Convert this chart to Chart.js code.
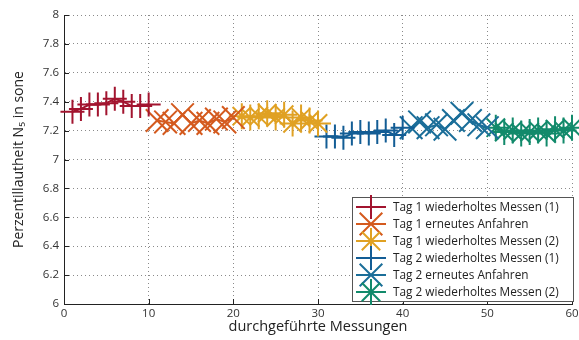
<!DOCTYPE html>
<html>
<head>
<meta charset="utf-8">
<script src="https://cdn.jsdelivr.net/npm/chart.js@4/dist/chart.umd.min.js"></script>
<style>
  html, body { margin: 0; padding: 0; background: #fff; }
  #wrap { width: 579px; height: 340px; }
</style>
</head>
<body>
<div id="wrap"><canvas id="myChart" width="579" height="340"></canvas></div>
<script>
// values
const seriesLabels = ['Tag 1 wiederholtes Messen (1)', 'Tag 1 erneutes Anfahren', 'Tag 1 wiederholtes Messen (2)',
    'Tag 2 wiederholtes Messen (1)', 'Tag 2 erneutes Anfahren', 'Tag 2 wiederholtes Messen (2)'];
const seriesStart = [1, 11, 21, 31, 41, 51];
const day1Repeat1 = [7.33, 7.35, 7.38, 7.38, 7.39, 7.42, 7.40, 7.37, 7.37, 7.38];
const day1Restart = [7.27, 7.26, 7.25, 7.31, 7.25, 7.27, 7.25, 7.28, 7.26, 7.29];
const day1Repeat2 = [7.30, 7.29, 7.30, 7.32, 7.29, 7.31, 7.25, 7.29, 7.27, 7.25];
const day2Repeat1 = [7.16, 7.16, 7.15, 7.18, 7.19, 7.18, 7.19, 7.20, 7.17, 7.22];
const day2Restart = [7.22, 7.26, 7.22, 7.24, 7.21, 7.27, 7.32, 7.27, 7.24, 7.22];
const day2Repeat2 = [7.22, 7.19, 7.20, 7.18, 7.19, 7.20, 7.18, 7.21, 7.20, 7.22];
const seriesValues = [day1Repeat1, day1Restart, day1Repeat2, day2Repeat1, day2Restart, day2Repeat2];
const xTicks = [0, 10, 20, 30, 40, 50, 60];
const yTicks = [6, 6.2, 6.4, 6.6, 6.8, 7, 7.2, 7.4, 7.6, 7.8, 8];

const colors = ['#a2142f', '#d45a1e', '#e0a123', '#135d95', '#1b6e99', '#128a6b'];
const styles = ['cross', 'crossRot', 'star', 'cross', 'crossRot', 'star'];
const radii = [12, 16, 13, 12, 16, 13];

const FONT = "'Open Sans', 'DejaVu Sans', sans-serif";

const datasets = seriesValues.map((vals, i) => ({
    label: seriesLabels[i],
    data: vals.map((v, k) => ({ x: seriesStart[i] + k, y: v })),
    borderColor: colors[i],
    backgroundColor: colors[i],
    borderWidth: 2,
    pointStyle: styles[i],
    pointRadius: radii[i],
    pointBorderWidth: 2,
    pointBorderColor: colors[i],
    showLine: true,
    tension: 0,
    fill: false,
    clip: false
}));

// small marker painter for the legend (same shapes as chart.js draws)
function drawMarker(ctx, style, r, x, y) {
    const d = Math.SQRT1_2 * r;
    ctx.beginPath();
    if (style === 'cross' || style === 'star') {
        ctx.moveTo(x - r, y); ctx.lineTo(x + r, y);
        ctx.moveTo(x, y - r); ctx.lineTo(x, y + r);
    }
    if (style === 'crossRot' || style === 'star') {
        ctx.moveTo(x - d, y - d); ctx.lineTo(x + d, y + d);
        ctx.moveTo(x - d, y + d); ctx.lineTo(x + d, y - d);
    }
    ctx.stroke();
}

// inward ticks like the original
const innerTicks = {
    id: 'innerTicks',
    afterDraw(chart) {
        const ctx = chart.ctx;
        const a = chart.chartArea;
        const xs = chart.scales.x, ys = chart.scales.y;
        ctx.save();
        ctx.strokeStyle = '#222';
        ctx.lineWidth = 1;
        ctx.beginPath();
        xTicks.forEach(t => {
            const px = Math.round(xs.getPixelForValue(t)) + 0.5;
            ctx.moveTo(px, a.bottom);
            ctx.lineTo(px, a.bottom - 5);
        });
        yTicks.forEach(t => {
            const py = Math.round(ys.getPixelForValue(t)) + 0.5;
            ctx.moveTo(a.left, py);
            ctx.lineTo(a.left + 5, py);
        });
        ctx.stroke();
        ctx.restore();
    }
};

// legend box inside the plot, bottom right
const boxLegend = {
    id: 'boxLegend',
    afterDraw(chart) {
        const ctx = chart.ctx;
        const a = chart.chartArea;
        const w = 221, h = 104;
        const x0 = Math.round(a.right) + 1 - w, y0 = Math.round(a.bottom) - 3 - h;
        ctx.save();
        ctx.fillStyle = '#fff';
        ctx.fillRect(x0, y0, w, h);
        ctx.strokeStyle = '#555';
        ctx.lineWidth = 1;
        ctx.strokeRect(x0 + 0.5, y0 + 0.5, w, h);
        ctx.font = '11.8px ' + FONT;
        ctx.textBaseline = 'middle';
        chart.data.datasets.forEach((ds, i) => {
            const cy = y0 + 10 + i * 17;
            ctx.strokeStyle = ds.borderColor;
            ctx.lineWidth = 2;
            ctx.beginPath();
            ctx.moveTo(x0 + 4, cy);
            ctx.lineTo(x0 + 34, cy);
            ctx.stroke();
            drawMarker(ctx, ds.pointStyle, ds.pointRadius, x0 + 19, cy);
        });
        chart.data.datasets.forEach((ds, i) => {
            const cy = y0 + 10 + i * 17;
            ctx.fillStyle = '#222';
            ctx.fillText(ds.label, x0 + 41, cy + 1);
        });
        ctx.restore();
    }
};

const ctx = document.getElementById('myChart').getContext('2d');
const myChart = new Chart(ctx, {
    type: 'scatter',
    data: { datasets: datasets },
    plugins: [innerTicks, boxLegend],
    options: {
        responsive: false,
        animation: false,
        layout: { autoPadding: false, padding: { top: 15, right: 7, left: 11, bottom: 4 } },
        plugins: {
            legend: { display: false },
            tooltip: { enabled: false }
        },
        scales: {
            x: {
                type: 'linear',
                min: 0,
                max: 60,
                afterBuildTicks: s => { s.ticks = xTicks.map(v => ({ value: v })); },
                afterFit: s => { s.height = 32; s.paddingLeft = 0; s.paddingRight = 0; },
                grid: { color: '#8a8a8a', lineWidth: 1, drawTicks: false },
                border: { display: true, color: '#222', width: 1, dash: [1, 3] },
                ticks: { color: '#333', font: { family: FONT, size: 11.5 }, padding: 3, maxRotation: 0 },
                title: { display: true, text: 'durchgeführte Messungen', color: '#222',
                    font: { family: FONT, size: 14.5 }, padding: { top: 0, bottom: 0 } }
            },
            y: {
                type: 'linear',
                min: 6,
                max: 8,
                afterBuildTicks: s => { s.ticks = yTicks.map(v => ({ value: v })); },
                afterFit: s => { s.width = 53; s.paddingTop = 0; s.paddingBottom = 0; },
                grid: { color: '#8a8a8a', lineWidth: 1, drawTicks: false },
                border: { display: true, color: '#222', width: 1, dash: [1, 3] },
                ticks: { color: '#333', font: { family: FONT, size: 11.5 }, padding: 5,
                    callback: v => String(Math.round(v * 10) / 10) },
                title: { display: true, text: 'Perzentillautheit N₅ in sone', color: '#222',
                    font: { family: FONT, size: 14 }, padding: { top: 0, bottom: 0 } }
            }
        }
    }
});
</script>
</body>
</html>
